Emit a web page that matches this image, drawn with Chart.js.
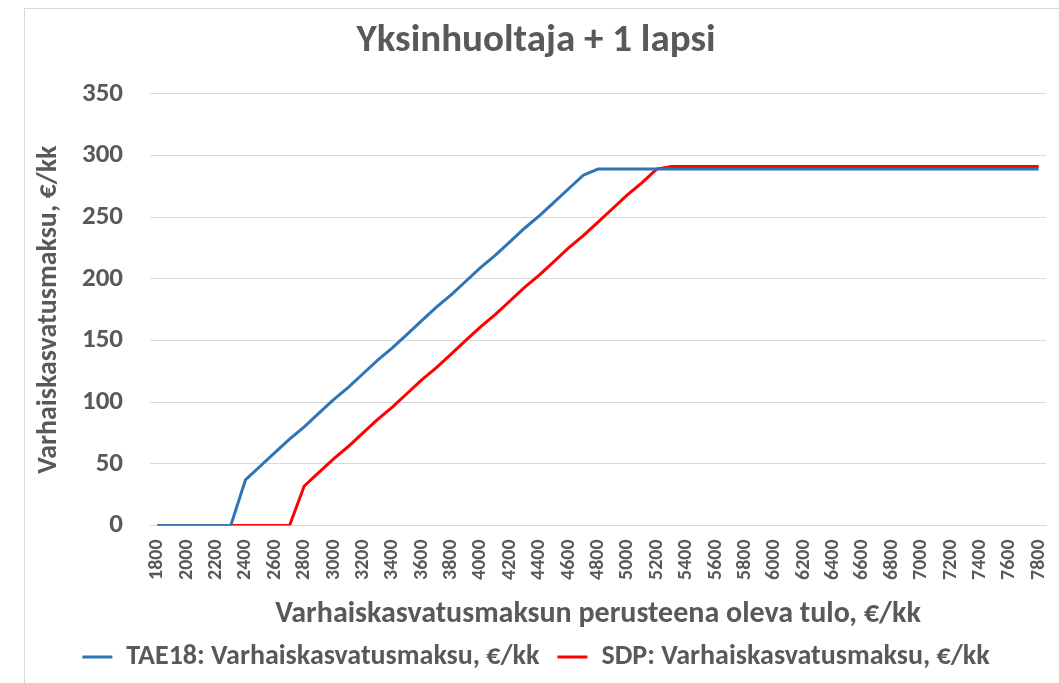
<!DOCTYPE html>
<html>
<head>
<meta charset="utf-8">
<script src="https://cdn.jsdelivr.net/npm/chart.js@4"></script>
<style>
  html, body { margin: 0; padding: 0; background: #fff; }
  #wrap { width: 1059px; height: 683px; }
</style>
</head>
<body>
<div id="wrap"><canvas id="maksuChart" width="1059" height="683"></canvas></div>
<script>
// Tulot 1800..7800 €/kk, 100 € välein
const tulot = [
  1800, 1900, 2000, 2100, 2200, 2300, 2400, 2500, 2600, 2700,
  2800, 2900, 3000, 3100, 3200, 3300, 3400, 3500, 3600, 3700,
  3800, 3900, 4000, 4100, 4200, 4300, 4400, 4500, 4600, 4700,
  4800, 4900, 5000, 5100, 5200, 5300, 5400, 5500, 5600, 5700,
  5800, 5900, 6000, 6100, 6200, 6300, 6400, 6500, 6600, 6700,
  6800, 6900, 7000, 7100, 7200, 7300, 7400, 7500, 7600, 7700,
  7800
];

const tae18 = [
  0, 0, 0, 0, 0, 0, 37, 48, 59, 70,
  80, 91, 102, 112, 123, 134, 144, 155, 166, 177,
  187, 198, 209, 219, 230, 241, 251, 262, 273, 284,
  289, 289, 289, 289, 289, 289, 289, 289, 289, 289,
  289, 289, 289, 289, 289, 289, 289, 289, 289, 289,
  289, 289, 289, 289, 289, 289, 289, 289, 289, 289,
  289
];

const sdp = [
  0, 0, 0, 0, 0, 0, 0, 0, 0, 0,
  32, 43, 54, 64, 75, 86, 96, 107, 118, 128,
  139, 150, 161, 171, 182, 193, 203, 214, 225, 235,
  246, 257, 268, 278, 289, 291, 291, 291, 291, 291,
  291, 291, 291, 291, 291, 291, 291, 291, 291, 291,
  291, 291, 291, 291, 291, 291, 291, 291, 291, 291,
  291
];

const yTicks = [0, 50, 100, 150, 200, 250, 300, 350];

const fontti = 'Carlito, "Liberation Sans", Arial, sans-serif';
const harmaa = '#595959';

// valkoinen tausta ja ohut kehys kuten Excelissä
const kehys = {
  id: 'kehys',
  beforeDraw(chart) {
    const c = chart.ctx;
    c.save();
    c.fillStyle = '#fff';
    c.fillRect(0, 0, chart.width, chart.height);
    c.strokeStyle = '#d9d9d9';
    c.lineWidth = 1;
    c.strokeRect(24.5, 8.5, chart.width, chart.height);
    c.restore();
  }
};

const ctx = document.getElementById('maksuChart').getContext('2d');
const maksuChart = new Chart(ctx, {
  type: 'line',
  data: {
    labels: tulot.map(String),
    datasets: [
      {
        label: 'TAE18: Varhaiskasvatusmaksu, €/kk',
        data: tae18,
        borderColor: '#2e75b6',
        backgroundColor: '#2e75b6',
        borderWidth: 3,
        pointRadius: 0,
        tension: 0
      },
      {
        label: 'SDP: Varhaiskasvatusmaksu, €/kk',
        data: sdp,
        borderColor: '#ff0000',
        backgroundColor: '#ff0000',
        borderWidth: 3,
        pointRadius: 0,
        tension: 0
      }
    ]
  },
  options: {
    responsive: false,
    animation: false,
    layout: { padding: { left: 26, right: 13, top: 12, bottom: 2 } },
    plugins: {
      title: {
        display: true,
        text: 'Yksinhuoltaja + 1 lapsi',
        color: harmaa,
        font: { family: fontti, size: 39, weight: 'bold' },
        padding: { top: 6, bottom: 29 }
      },
      legend: {
        position: 'bottom',
        labels: {
          color: harmaa,
          font: { family: fontti, size: 28, weight: 'bold' },
          boxWidth: 30,
          boxHeight: 3,
          padding: 18,
          generateLabels(chart) {
            return chart.data.datasets.map((ds, i) => ({
              text: ds.label,
              fillStyle: ds.borderColor,
              strokeStyle: ds.borderColor,
              lineWidth: 0,
              fontColor: harmaa,
              datasetIndex: i
            }));
          }
        }
      },
      tooltip: { enabled: false }
    },
    scales: {
      x: {
        offset: true,
        afterFit(scale) { scale.paddingLeft = 0; scale.paddingRight = 0; },
        grid: { display: false, drawTicks: false },
        border: { display: true, color: '#d9d9d9' },
        ticks: {
          autoSkip: false,
          minRotation: 90,
          maxRotation: 90,
          padding: 14,
          color: harmaa,
          font: { family: fontti, size: 20, weight: 'bold' },
          callback: (v, i) => (i % 2 === 0 ? String(tulot[i]) : '')
        },
        title: {
          display: true,
          text: 'Varhaiskasvatusmaksun perusteena oleva tulo, €/kk',
          color: harmaa,
          font: { family: fontti, size: 30, weight: 'bold' },
          padding: { top: 2, bottom: -7 }
        }
      },
      y: {
        min: 0,
        max: 350,
        afterBuildTicks(scale) {
          scale.ticks = yTicks.map(v => ({ value: v }));
        },
        afterFit(scale) { scale.width = 124; },
        grid: { color: '#d9d9d9', drawTicks: false },
        border: { display: false },
        ticks: {
          padding: 27,
          color: harmaa,
          font: { family: fontti, size: 27, weight: 'bold' }
        },
        title: {
          display: true,
          text: 'Varhaiskasvatusmaksu, €/kk',
          color: harmaa,
          font: { family: fontti, size: 28, weight: 'bold' },
          padding: { top: 6, bottom: 4 }
        }
      }
    }
  },
  plugins: [kehys]
});
</script>
</body>
</html>
